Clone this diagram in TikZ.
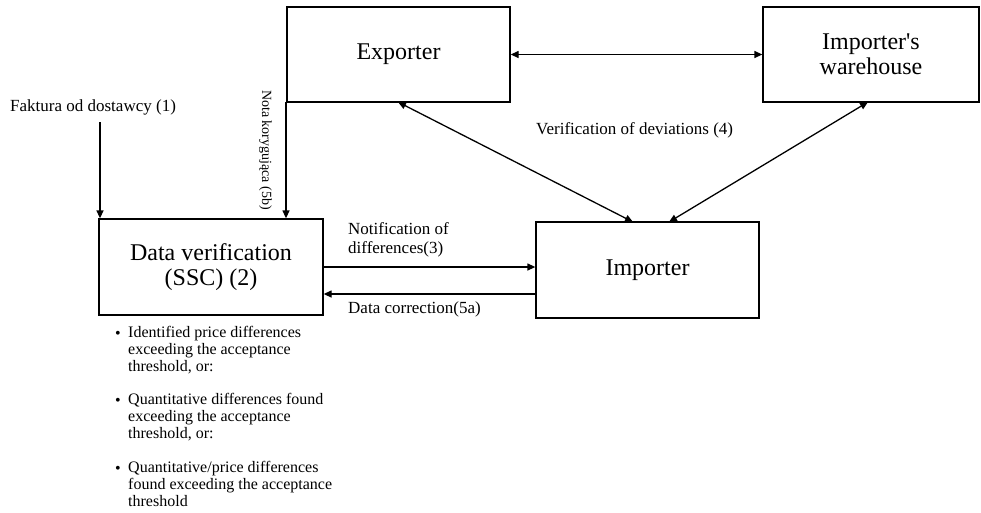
\documentclass[tikz,border=0pt]{standalone}
\usepackage{fontspec}
\setmainfont{Liberation Serif}
\usetikzlibrary{arrows.meta}
\begin{document}
\begin{tikzpicture}[x=1pt,y=-1pt,
  box/.style={draw,line width=1.3pt,inner sep=0pt,align=center,font=\fontsize{24}{25}\selectfont},
  lbl/.style={inner sep=0pt,font=\fontsize{17}{19}\selectfont,align=left},
  blt/.style={inner sep=0pt,font=\fontsize{16}{17}\selectfont,align=left},
  arr/.style={line width=1.3pt,-{Triangle[length=8pt,width=7pt]}},
  darr/.style={line width=1.3pt,{Triangle[length=8pt,width=7pt]}-{Triangle[length=8pt,width=7pt]}}]
\useasboundingbox (0,0) rectangle (981,512);
\node[box,minimum width=223pt,minimum height=95pt] (exp) at (398.5,54.5) {Exporter};
\node[box,minimum width=216pt,minimum height=95pt] (wh) at (871,54.5) {Importer\textquotesingle s\\warehouse};
\node[box,minimum width=224pt,minimum height=96pt] (dv) at (211,267) {Data verification\\(SSC) (2)};
\node[box,minimum width=223pt,minimum height=96pt] (imp) at (647.5,270) {Importer};
\draw[darr] (exp.east) -- (wh.west);
\draw[darr] (398,102) -- (633,222);
\draw[darr] (868,102) -- (669,222);
\node[lbl,anchor=west] (fak) at (10,107) {Faktura od dostawcy (1)};
\coordinate (fs) at (100,122);
\draw[arr] (fs) -- (fs |- dv.north);
\coordinate (ns) at (286,102);
\draw[arr] (ns) -- (ns |- dv.north);
\node[inner sep=0pt,font=\fontsize{14}{16}\selectfont,rotate=-90,anchor=north west] (nota) at (272,90) {Nota korygująca (5b)};
\draw[arr] (dv.east |- 0,267) -- (imp.west |- 0,267);
\draw[arr] (imp.west |- 0,294) -- (dv.east |- 0,294);
\node[lbl,anchor=south west] (notif) at (348,257) {Notification of\\differences(3)};
\node[lbl,anchor=west] (corr) at (348,309) {Data correction(5a)};
\node[lbl,anchor=west] (ver) at (536,130) {Verification of deviations (4)};
\node[blt,anchor=north west] (b1) at (128,326) {Identified price differences\\exceeding the acceptance\\threshold, or:};
\node[blt,anchor=north west] (b2) at (128,393) {Quantitative differences  found\\exceeding the acceptance\\threshold, or:};
\node[blt,anchor=north west] (b3) at (128,461) {Quantitative/price differences\\found exceeding the acceptance\\threshold};
\node[blt,anchor=center] at (118,335) {\textbullet};
\node[blt,anchor=center] at (118,402) {\textbullet};
\node[blt,anchor=center] at (118,470) {\textbullet};
\end{tikzpicture}
\end{document}
